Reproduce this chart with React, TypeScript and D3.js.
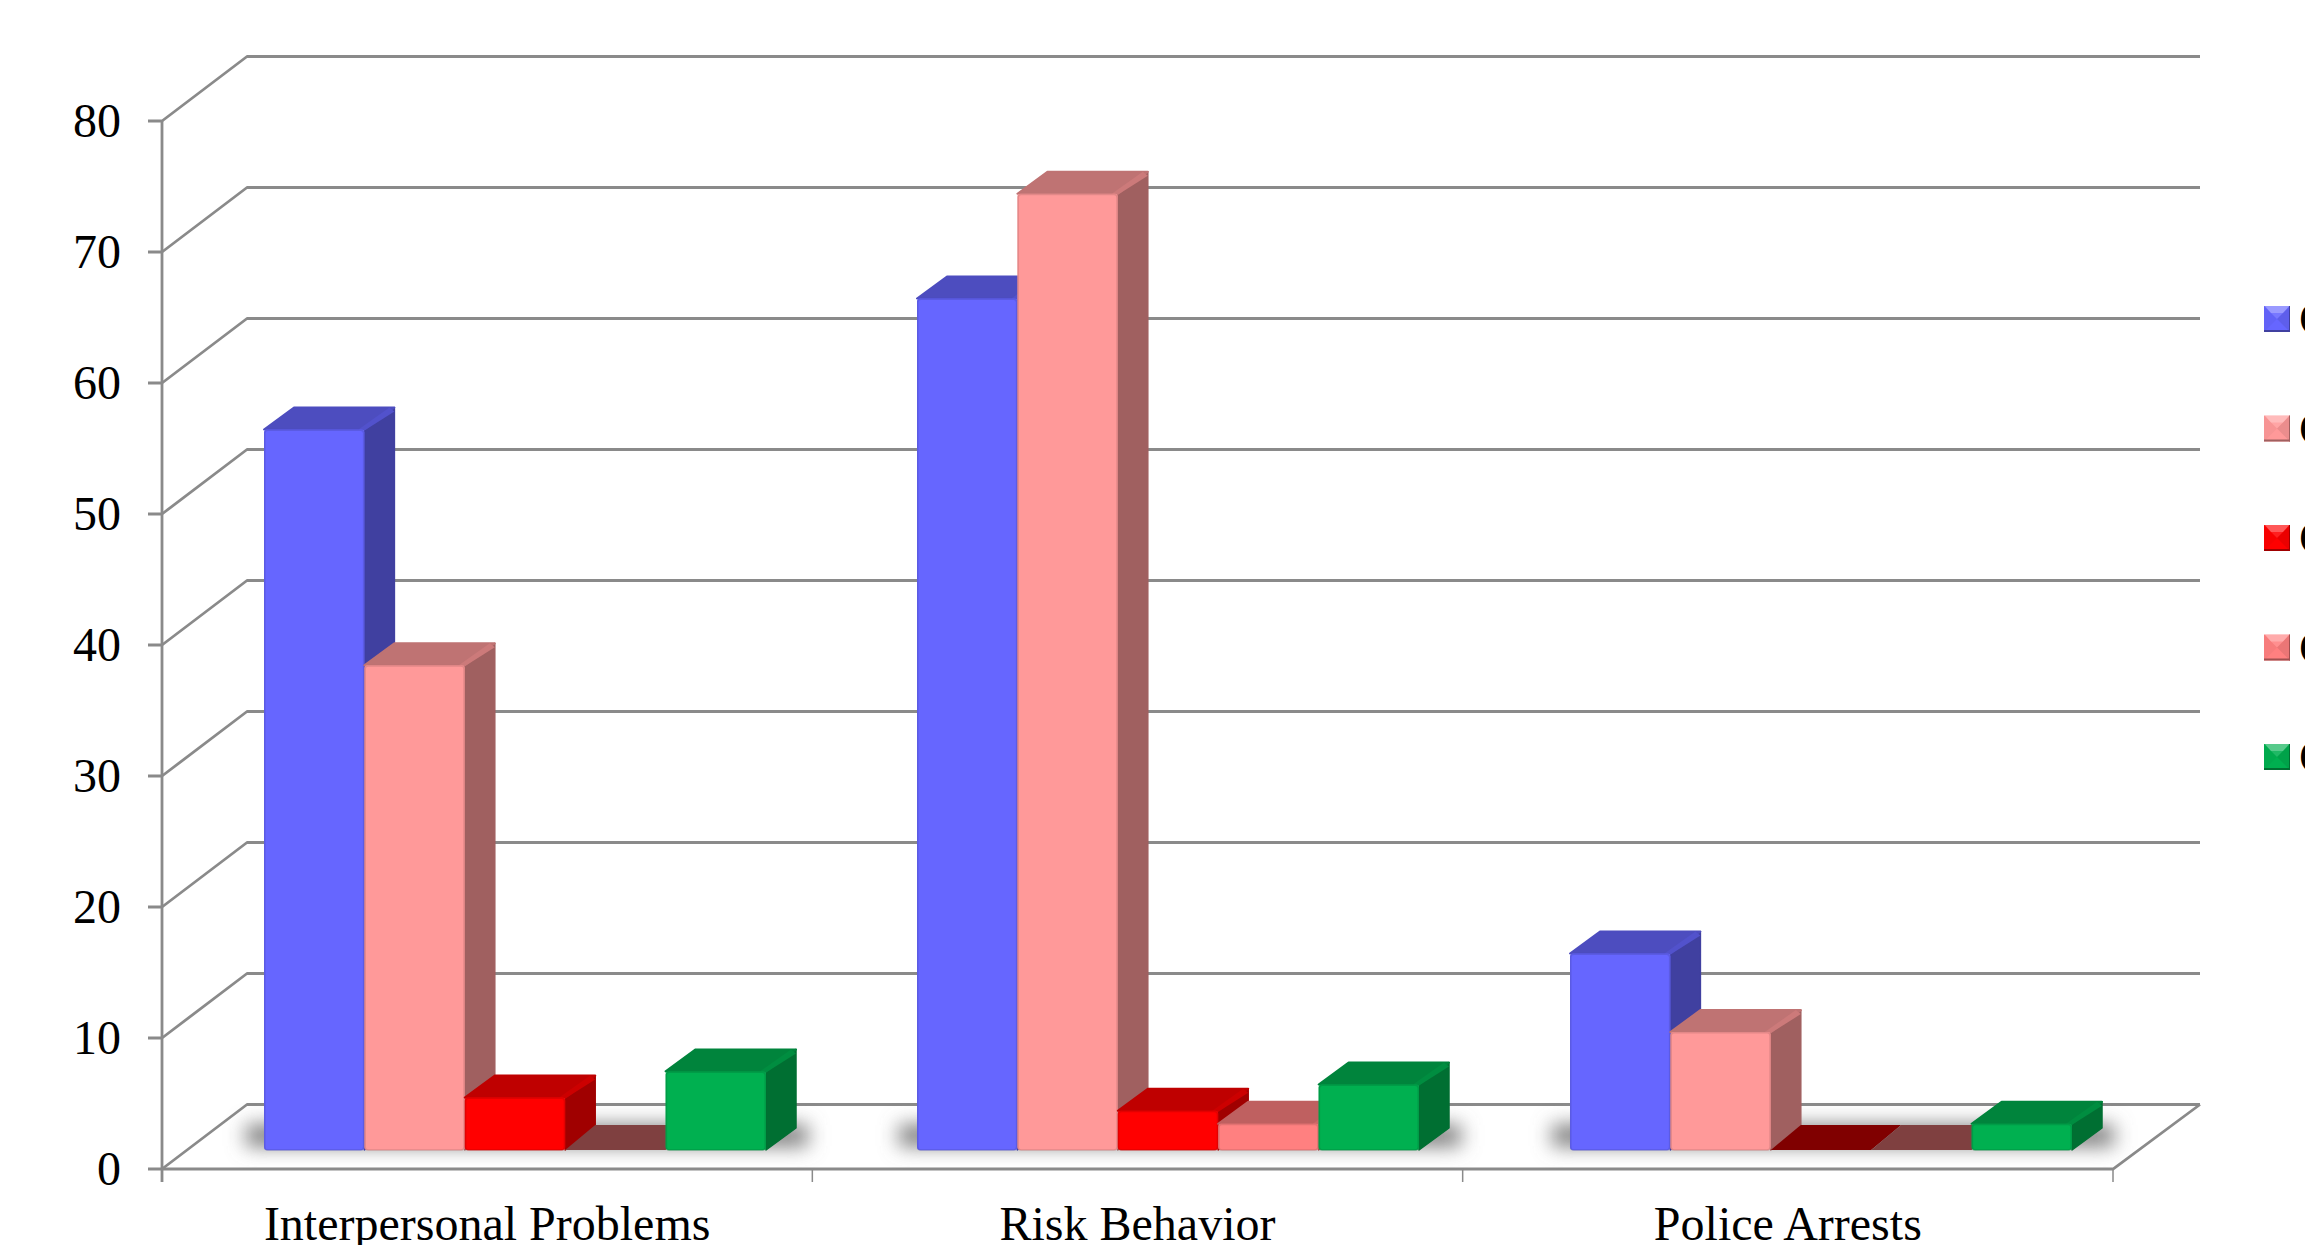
import React from "react";
import * as d3 from "d3";

const categories = ["Interpersonal Problems", "Risk Behavior", "Police Arrests"];
const seriesNames = ["C1", "C2", "C3", "C4", "C5"];
const s1 = [55, 65, 15];
const s2 = [37, 73, 9];
const s3 = [4, 3, 0];
const s4 = [0, 2, 0];
const s5 = [6, 5, 2];
const seriesValues = [s1, s2, s3, s4, s5];
const yTicks = [0, 10, 20, 30, 40, 50, 60, 70, 80];

const frontColors = ["#6666FF", "#FF9999", "#FF0000", "#FF8080", "#00B050"];
const topColors = ["#4D4DBF", "#BF7373", "#BF0000", "#BF6060", "#00843C"];
const sideColors = ["#4040A0", "#A06060", "#A00000", "#A05050", "#006F32"];
const zeroColors = ["#333380", "#804D4D", "#800000", "#7F4040", "#005828"];
const bevelColors = ["#5252CC", "#CC7A7A", "#CC0000", "#CC6666", "#008D40"];

const W = 2305, H = 1245;
const yScale = d3.scaleLinear().domain([0, 80]).range([1169, 121]);
const xAxis = d3.scaleBand<string>().domain(categories).range([162, 2113]);
const groups = d3.scaleBand<string>().domain(categories).range([264, 2223]);
const barScale = d3.scaleBand<string>().domain(seriesNames).range([0, 502]);

const backDx = 85, backDy = -64.5;
const barLift = -19, barDx = 30, barDy = -22, zeroDy = -25;
const legendY = d3.scalePoint<string>().domain(seriesNames).range([319, 757]);
const font = '"Liberation Serif", "Times New Roman", serif';
const grid = "#8a8a8a";

const pts = (a: number[][]) => a.map((p) => p.join(",")).join(" ");

function Bar({ x, w, v, s }: { x: number; w: number; v: number; s: number }) {
  const base = yScale(0) + barLift;
  const top = yScale(v) + barLift;
  if (v === 0) {
    return <polygon points={pts([[x, base], [x + w, base], [x + w + barDx, base + zeroDy], [x + barDx, base + zeroDy]])} fill={zeroColors[s]} />;
  }
  return (
    <g>
      <polygon points={pts([[x + w, base], [x + w + barDx, base + barDy], [x + w + barDx, top + barDy], [x + w, top]])} fill={sideColors[s]} stroke={sideColors[s]} strokeWidth={1.5} strokeLinejoin="round" />
      <polygon points={pts([[x, top], [x + w, top], [x + w + barDx, top + barDy], [x + barDx, top + barDy]])} fill={topColors[s]} stroke={topColors[s]} strokeWidth={2} strokeLinejoin="round" />
      <polygon points={pts([[x + w - 6, top], [x + w, top + 1], [x + w + barDx, top + barDy + 4], [x + w + barDx - 5, top + barDy]])} fill={bevelColors[s]} />
      <rect x={x} y={top} width={w} height={base - top} rx={3} fill={frontColors[s]} />
      <rect x={x + 0.75} y={top + 0.75} width={w - 1.5} height={base - top - 0.75} rx={3} fill="none" stroke={bevelColors[s]} strokeOpacity={0.55} strokeWidth={1.5} />
    </g>
  );
}

function Swatch({ y, s }: { y: number; s: number }) {
  const x0 = 2264, x1 = 2290, y0 = y - 13, y1 = y + 13, cx = x0 + 13;
  const fc = frontColors[s];
  return (
    <g>
      <rect x={x0} y={y0} width={26} height={26} fill={fc} />
      <polygon points={pts([[x0, y0], [x1, y0], [cx, y]])} fill="#fff" fillOpacity={0.12} />
      <polygon points={pts([[x0 + 1, y0], [x1 - 1, y0], [x1 - 7, y0 + 7], [x0 + 7, y0 + 7]])} fill="#fff" fillOpacity={0.25} />
      <polygon points={pts([[x0, y0], [cx, y], [x0, y1]])} fill="#000" fillOpacity={0.03} />
      <polygon points={pts([[x1, y0], [cx, y], [x1, y1]])} fill="#000" fillOpacity={0.08} />
      <rect x={x0} y={y1 - 2} width={26} height={2} fill={sideColors[s]} />
      <rect x={x1 - 1} y={y0} width={1} height={26} fill={sideColors[s]} />
    </g>
  );
}

export default function App() {
  const bw = barScale.bandwidth();
  return (
    <svg width={W} height={H} viewBox={`0 0 ${W} ${H}`} style={{ position: "fixed", left: 0, top: 0, background: "#fff" }}>
      <defs>
        <filter id="floorShadow" x="-20%" y="-200%" width="140%" height="500%">
          <feGaussianBlur stdDeviation="10" />
        </filter>
      </defs>
      {yTicks.map((t) => {
        const y = yScale(t);
        return (
          <polyline key={t} stroke={grid} strokeWidth={2.8} fill="none" strokeLinejoin="round"
            points={pts([[148, y], [162, y], [162 + backDx, y + backDy], [2200, y + backDy]])} />
        );
      })}
      <line x1={162} y1={yScale(80)} x2={162} y2={1182} stroke={grid} strokeWidth={2.8} />
      <polyline points={pts([[162, 1169], [2113, 1169], [2200, 1104.5]])} fill="none" stroke={grid} strokeWidth={2.8} />
      {categories.map((c) => (
        <line key={c} x1={(xAxis(c) as number) + xAxis.bandwidth()} x2={(xAxis(c) as number) + xAxis.bandwidth()} y1={1169} y2={1182} stroke={grid} strokeWidth={1.5} />
      ))}
      {categories.map((c) => {
        const x0 = groups(c) as number;
        return <rect key={c} x={x0 - 18} y={1125} width={562} height={21} fill="#777" filter="url(#floorShadow)" />;
      })}
      {categories.map((c, i) => {
        const x0 = groups(c) as number;
        return (
          <g key={c}>
            {seriesNames.map((n, s) => (
              <Bar key={n} x={x0 + (barScale(n) as number)} w={bw} v={seriesValues[s][i]} s={s} />
            ))}
          </g>
        );
      })}
      <g fontFamily={font} fontSize={48} fill="#000">
        {yTicks.map((t) => (
          <text key={t} x={121} y={yScale(t) + 16} textAnchor="end">{t}</text>
        ))}
        {categories.map((c) => (
          <text key={c} x={(xAxis(c) as number) + xAxis.bandwidth() / 2} y={1240} textAnchor="middle">{c}</text>
        ))}
        {seriesNames.map((n, s) => (
          <g key={n}>
            <Swatch y={legendY(n) as number} s={s} />
            <text x={2299} y={(legendY(n) as number) + 16}>{n}</text>
          </g>
        ))}
      </g>
    </svg>
  );
}
